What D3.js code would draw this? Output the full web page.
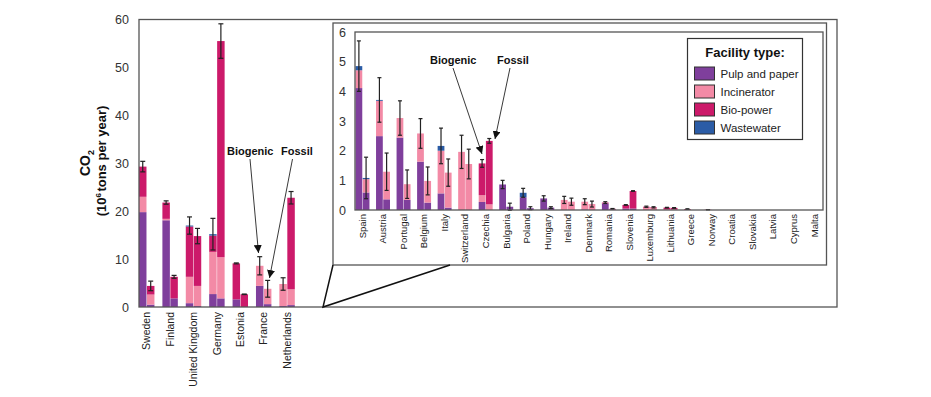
<!DOCTYPE html>
<html>
<head>
<meta charset="utf-8">
<script src="https://cdn.jsdelivr.net/npm/d3@7"></script>
<style>
  body { margin: 0; background: #fff; }
  svg { font-family: "Liberation Sans", Arial, sans-serif; }
</style>
</head>
<body>
<script>
var width = 931;
var height = 397;

// Facility types, in stacking order
var facilityTypes = ["Pulp and paper", "Incinerator", "Bio-power", "Wastewater"];
var facilityColors = ["#7f3f9c", "#f38aa6", "#cc1a6a", "#2b5ca6"];
var emissionTypes = ["Biogenic", "Fossil"];

// Main panel (10^6 t/yr), per country: [pulp, incinerator, bio-power, wastewater]
var mainCountries = ["Sweden", "Finland", "United Kingdom", "Germany", "Estonia", "France", "Netherlands"];
var mainBiogenic = [
    [19.8, 3.2, 6.3, 0],
    [18.1, 0.3, 3.4, 0],
    [0.8, 5.5, 10.5, 0.2],
    [2.7, 8.8, 3.4, 0.3],
    [1.6, 0, 7.5, 0],
    [4.4, 4.2, 0, 0],
    [0.2, 4.6, 0, 0]
];
var mainFossil = [
    [0.5, 2.1, 1.8, 0],
    [1.8, 0, 4.5, 0],
    [0.2, 4.2, 10.4, 0],
    [1.8, 8.6, 45.1, 0],
    [0, 0, 2.65, 0],
    [0.6, 3.2, 0, 0],
    [0.4, 3.3, 19.1, 0]
];
var mainBiogenicErr = [1.1, 0.35, 1.8, 3.3, 0.1, 1.9, 1.3];
var mainFossilErr = [1.0, 0.3, 1.6, 3.6, 0.05, 1.75, 1.3];

// Inset panel
var insetCountries = ["Spain", "Austria", "Portugal", "Belgium", "Italy", "Switzerland", "Czechia",
    "Bulgaria", "Poland", "Hungary", "Ireland", "Denmark", "Romania", "Slovenia", "Luxemburg",
    "Lithuania", "Greece", "Norway", "Croatia", "Slovakia", "Latvia", "Cyprus", "Malta"];
var insetBiogenic = [
    [4.11, 0.6, 0, 0.14],
    [2.49, 1.19, 0, 0.03],
    [2.44, 0.66, 0, 0],
    [1.63, 0.95, 0, 0],
    [0.56, 1.44, 0, 0.16],
    [0, 1.96, 0, 0],
    [0.27, 0.23, 1.07, 0],
    [0.86, 0, 0, 0],
    [0.43, 0, 0, 0.15],
    [0.39, 0, 0, 0],
    [0, 0.34, 0, 0],
    [0.02, 0.26, 0, 0],
    [0.22, 0, 0.03, 0],
    [0.05, 0, 0.12, 0],
    [0, 0.08, 0.03, 0],
    [0, 0.02, 0.06, 0],
    [0, 0, 0.03, 0],
    [0, 0, 0.01, 0],
    [0, 0, 0, 0],
    [0, 0, 0, 0],
    [0, 0, 0, 0],
    [0, 0, 0, 0],
    [0, 0, 0, 0]
];
var insetFossil = [
    [0.59, 0.45, 0, 0.04],
    [0.36, 0.93, 0, 0],
    [0.34, 0.53, 0, 0],
    [0.25, 0.73, 0, 0],
    [0.08, 1.18, 0, 0],
    [0, 1.55, 0, 0],
    [0, 0.19, 2.14, 0],
    [0.11, 0, 0, 0],
    [0.06, 0, 0, 0],
    [0.08, 0, 0, 0],
    [0, 0.28, 0, 0],
    [0, 0.2, 0, 0],
    [0.02, 0, 0.02, 0],
    [0.05, 0, 0.59, 0],
    [0, 0.07, 0.02, 0],
    [0, 0.02, 0.05, 0],
    [0, 0, 0, 0],
    [0, 0, 0, 0],
    [0, 0, 0, 0],
    [0, 0, 0, 0],
    [0, 0, 0, 0],
    [0, 0, 0, 0],
    [0, 0, 0, 0]
];
var insetBiogenicErr = [0.85, 0.75, 0.58, 0.5, 0.6, 0.56, 0.13, 0.14, 0.15, 0.09, 0.12, 0.1, 0.03, 0.01, 0.02, 0.01, 0.01, 0, 0, 0, 0, 0, 0];
var insetFossilErr = [0.7, 0.63, 0.48, 0.47, 0.46, 0.5, 0.08, 0.12, 0.05, 0.03, 0.12, 0.1, 0.01, 0.01, 0.02, 0.01, 0, 0, 0, 0, 0, 0, 0];

var mainTicks = [0, 10, 20, 30, 40, 50, 60];
var insetTicks = [0, 1, 2, 3, 4, 5, 6];

var color = d3.scaleOrdinal().domain(facilityTypes).range(facilityColors);

var svg = d3.select("body").append("svg")
    .attr("width", width)
    .attr("height", height);

var defs = svg.append("defs");
defs.append("marker")
    .attr("id", "arrowhead")
    .attr("viewBox", "0 -5 10 10")
    .attr("refX", 10)
    .attr("refY", 0)
    .attr("orient", "auto")
    .attr("markerUnits", "userSpaceOnUse")
    .attr("markerWidth", 8)
    .attr("markerHeight", 8)
    .append("path")
    .attr("d", "M0,-5L10,0L0,5Z")
    .attr("fill", "#111");

// build rows for stacking
function makeRows(countries, bio, fossil, bioErr, fossilErr) {
    var rows = [];
    countries.forEach(function(c, i) {
        [bio[i], fossil[i]].forEach(function(vals, j) {
            var r = { country: c, kind: emissionTypes[j], err: j === 0 ? bioErr[i] : fossilErr[i] };
            facilityTypes.forEach(function(t, k) { r[t] = vals[k]; });
            r.total = d3.sum(vals);
            rows.push(r);
        });
    });
    return rows;
}

function drawPanel(g, rows, x0, y, capW) {
    var x1 = d3.scaleBand().domain(emissionTypes).range([0, x0.bandwidth()]).paddingInner(0.06);
    var stacked = d3.stack().keys(facilityTypes)(rows);

    g.append("g").selectAll("g")
        .data(stacked)
        .enter().append("g")
        .attr("fill", function(d) { return color(d.key); })
        .selectAll("rect")
        .data(function(d) { return d; })
        .enter().append("rect")
        .attr("x", function(d) { return x0(d.data.country) + x1(d.data.kind); })
        .attr("width", x1.bandwidth())
        .attr("y", function(d) { return y(d[1]); })
        .attr("height", function(d) { return Math.max(0, y(d[0]) - y(d[1])); });

    var err = g.append("g")
        .attr("stroke", "#222")
        .attr("stroke-width", 1.2)
        .selectAll("g")
        .data(rows.filter(function(d) { return d.total > 0; }))
        .enter().append("g")
        .attr("transform", function(d) {
            return "translate(" + (x0(d.country) + x1(d.kind) + x1.bandwidth() / 2) + ",0)";
        });
    err.append("line")
        .attr("y1", function(d) { return y(d.total - d.err); })
        .attr("y2", function(d) { return y(d.total + d.err); });
    err.append("line")
        .attr("x1", -capW / 2).attr("x2", capW / 2)
        .attr("y1", function(d) { return y(d.total + d.err); })
        .attr("y2", function(d) { return y(d.total + d.err); });
    err.append("line")
        .attr("x1", -capW / 2).attr("x2", capW / 2)
        .attr("y1", function(d) { return y(d.total - d.err); })
        .attr("y2", function(d) { return y(d.total - d.err); });
}

function annotate(g, xs, ys, arrows) {
    g.append("text").attr("x", xs[0]).attr("y", ys)
        .attr("font-size", 11).attr("font-weight", "bold").attr("fill", "#111")
        .text("Biogenic");
    g.append("text").attr("x", xs[1]).attr("y", ys)
        .attr("font-size", 11).attr("font-weight", "bold").attr("fill", "#111")
        .text("Fossil");
    arrows.forEach(function(a) {
        g.append("line")
            .attr("x1", a[0]).attr("y1", a[1]).attr("x2", a[2]).attr("y2", a[3])
            .attr("stroke", "#222").attr("stroke-width", 0.9)
            .attr("marker-end", "url(#arrowhead)");
    });
}

// ---------- main panel ----------
var main = { left: 139, top: 19.5, right: 837, bottom: 307 };

var xMain = d3.scaleBand()
    .domain(mainCountries)
    .range([main.left, 294.8])
    .paddingInner(0.34)
    .paddingOuter(0);
var yMain = d3.scaleLinear().domain([0, 60]).range([main.bottom, main.top]);

var gMain = svg.append("g");
drawPanel(gMain, makeRows(mainCountries, mainBiogenic, mainFossil, mainBiogenicErr, mainFossilErr), xMain, yMain, 5);

svg.append("rect")
    .attr("x", main.left).attr("y", main.top)
    .attr("width", main.right - main.left).attr("height", main.bottom - main.top)
    .attr("fill", "none").attr("stroke", "#555").attr("stroke-width", 1.3);

var yAxisMain = svg.append("g")
    .attr("transform", "translate(" + main.left + ",0)")
    .call(d3.axisLeft(yMain).tickValues(mainTicks).tickFormat(d3.format("d")).tickSize(0).tickPadding(10));
yAxisMain.select(".domain").remove();
yAxisMain.selectAll("text").attr("font-size", 12.5).attr("fill", "#333")
    .attr("font-family", "Liberation Sans, Arial, sans-serif");

var xAxisMain = svg.append("g")
    .attr("transform", "translate(0," + main.bottom + ")")
    .call(d3.axisBottom(xMain).tickSize(0).tickPadding(4));
xAxisMain.select(".domain").remove();
xAxisMain.selectAll("text")
    .attr("font-size", 10.5).attr("fill", "#222")
    .attr("font-family", "Liberation Sans, Arial, sans-serif")
    .attr("transform", "rotate(-90)")
    .attr("text-anchor", "end")
    .attr("x", -5).attr("y", 0).attr("dy", "0.35em");

var yTitle = svg.append("text")
    .attr("transform", "translate(90,163) rotate(-90)")
    .attr("text-anchor", "middle")
    .attr("font-weight", "bold").attr("fill", "#111");
yTitle.append("tspan").attr("x", 0).attr("font-size", 14).text("CO");
yTitle.append("tspan").attr("font-size", 9).attr("dy", 4).text("2");
var yTitle2 = svg.append("text")
    .attr("transform", "translate(106,161) rotate(-90)")
    .attr("text-anchor", "middle")
    .attr("font-weight", "bold").attr("font-size", 13).attr("fill", "#111");
yTitle2.append("tspan").text("(10");
yTitle2.append("tspan").attr("font-size", 8).attr("dy", -5).text("6");
yTitle2.append("tspan").attr("dy", 5).attr("dx", 1.5).text("tons per year)");

annotate(svg, [227, 281], 155, [
    [250, 159, 258.5, 253],
    [292.5, 159, 269.5, 278]
]);

// ---------- inset ----------
var frame = { left: 333, top: 23, right: 826.5, bottom: 265 };
var inset = { left: 355, top: 32, right: 823, bottom: 210 };

svg.append("rect")
    .attr("x", frame.left).attr("y", frame.top)
    .attr("width", frame.right - frame.left).attr("height", frame.bottom - frame.top)
    .attr("fill", "#fff").attr("stroke", "#555").attr("stroke-width", 1.3);

// zoom connector lines
svg.append("path")
    .attr("d", "M" + frame.left + "," + frame.bottom + "L323," + main.bottom + "L450," + frame.bottom)
    .attr("fill", "none").attr("stroke", "#111").attr("stroke-width", 1.5);

var xInset = d3.scaleBand()
    .domain(insetCountries)
    .range([inset.left + 0.5, 821.2])
    .paddingInner(0.32)
    .paddingOuter(0);
var yInset = d3.scaleLinear().domain([0, 6]).range([inset.bottom, inset.top]);

var gInset = svg.append("g");
drawPanel(gInset, makeRows(insetCountries, insetBiogenic, insetFossil, insetBiogenicErr, insetFossilErr), xInset, yInset, 4);

svg.append("rect")
    .attr("x", inset.left).attr("y", inset.top)
    .attr("width", inset.right - inset.left).attr("height", inset.bottom - inset.top)
    .attr("fill", "none").attr("stroke", "#555").attr("stroke-width", 1.3);

var yAxisInset = svg.append("g")
    .attr("transform", "translate(" + inset.left + ",0)")
    .call(d3.axisLeft(yInset).tickValues(insetTicks).tickFormat(d3.format("d")).tickSize(0).tickPadding(9));
yAxisInset.select(".domain").remove();
yAxisInset.selectAll("text").attr("font-size", 12.5).attr("fill", "#333")
    .attr("font-family", "Liberation Sans, Arial, sans-serif");

var xAxisInset = svg.append("g")
    .attr("transform", "translate(0," + inset.bottom + ")")
    .call(d3.axisBottom(xInset).tickSize(0).tickPadding(4));
xAxisInset.select(".domain").remove();
xAxisInset.selectAll("text")
    .attr("font-size", 9.5).attr("fill", "#222")
    .attr("font-family", "Liberation Sans, Arial, sans-serif")
    .attr("transform", "rotate(-90)")
    .attr("text-anchor", "end")
    .attr("x", -4).attr("y", 0).attr("dy", "0.35em");

annotate(svg, [430, 497], 64, [
    [453, 68, 482, 154],
    [510, 68, 495, 139]
]);

// ---------- legend ----------
var legend = svg.append("g").attr("transform", "translate(687.5,38.5)");
legend.append("rect")
    .attr("width", 115).attr("height", 101)
    .attr("fill", "#fff").attr("stroke", "#333").attr("stroke-width", 1.2);
legend.append("text")
    .attr("x", 57.5).attr("y", 18)
    .attr("text-anchor", "middle")
    .attr("font-size", 13).attr("font-weight", "bold").attr("fill", "#111")
    .text("Facility type:");
var item = legend.selectAll(".item")
    .data(facilityTypes)
    .enter().append("g")
    .attr("class", "item")
    .attr("transform", function(d, i) { return "translate(7," + (28.5 + i * 18) + ")"; });
item.append("rect")
    .attr("width", 20).attr("height", 13)
    .attr("fill", function(d) { return color(d); })
    .attr("stroke", "#333").attr("stroke-width", 1);
item.append("text")
    .attr("x", 26).attr("y", 6.5).attr("dy", "0.35em")
    .attr("font-size", 11.5).attr("fill", "#222")
    .text(function(d) { return d; });
</script>
</body>
</html>
